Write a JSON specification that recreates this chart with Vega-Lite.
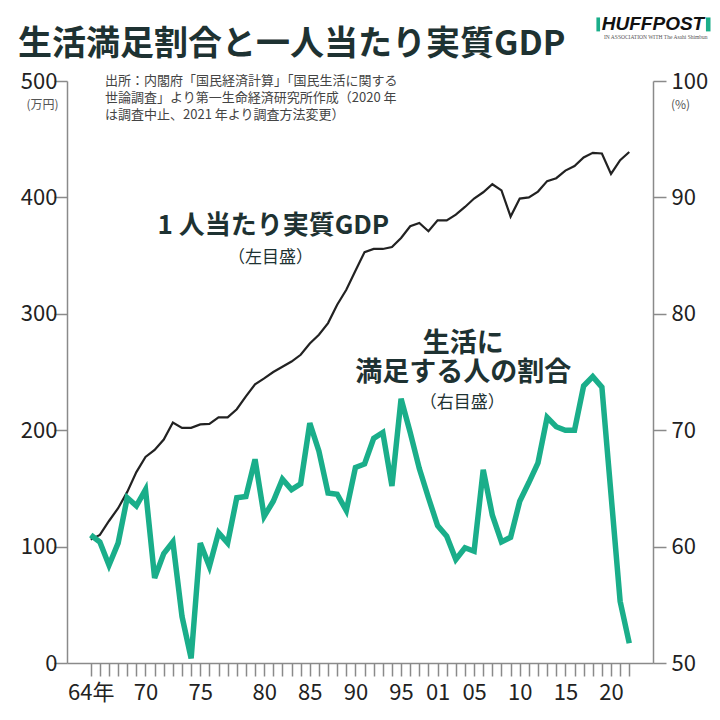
{
  "$schema": "https://vega.github.io/schema/vega-lite/v6.json",
  "width": 586,
  "height": 582,
  "autosize": {"type": "none"},
  "padding": {"left": 67, "top": 81, "right": 67, "bottom": 57},
  "background": "white",
  "config": {
    "view": {"stroke": null},
    "font": "Noto Sans CJK JP",
    "axis": {
      "grid": false,
      "domain": true,
      "ticks": true,
      "domainColor": "#8a8a8a",
      "tickColor": "#8a8a8a",
      "domainWidth": 1.5,
      "tickWidth": 1.5,
      "labelColor": "#222222",
      "labelFontSize": 22,
      "labelFont": "Noto Sans CJK JP",
      "titleFont": "Noto Sans CJK JP",
      "titleFontSize": 12,
      "titleFontWeight": "normal",
      "titleColor": "#555555"
    }
  },
  "title": {
    "text": "生活満足割合と一人当たり実質GDP",
    "anchor": "start",
    "frame": "group",
    "dx": -49,
    "dy": 57,
    "offset": 10,
    "font": "Noto Sans CJK JP",
    "fontSize": 34,
    "fontWeight": "bold",
    "color": "#1e3232"
  },
  "datasets": {
    "d": [
      {"i": 0, "year": "1964", "gdp": 106, "sat": 61.0},
      {"i": 1, "year": "1965", "gdp": 110, "sat": 60.4},
      {"i": 2, "year": "1966", "gdp": 122, "sat": 58.4},
      {"i": 3, "year": "1967", "gdp": 133, "sat": 60.3},
      {"i": 4, "year": "1968", "gdp": 147, "sat": 64.2},
      {"i": 5, "year": "1969", "gdp": 164, "sat": 63.5},
      {"i": 6, "year": "1970", "gdp": 177, "sat": 64.9},
      {"i": 7, "year": "1971", "gdp": 183, "sat": 57.3},
      {"i": 8, "year": "1972", "gdp": 192, "sat": 59.4},
      {"i": 9, "year": "1973", "gdp": 206.6, "sat": 60.4},
      {"i": 10, "year": "1974a", "gdp": 202, "sat": 54.0},
      {"i": 11, "year": "1974b", "gdp": 202, "sat": 50.4},
      {"i": 12, "year": "1975", "gdp": 205, "sat": 60.3},
      {"i": 13, "year": "1976a", "gdp": 205.5, "sat": 58.3},
      {"i": 14, "year": "1976b", "gdp": 211, "sat": 61.2},
      {"i": 15, "year": "1977a", "gdp": 211, "sat": 60.3},
      {"i": 16, "year": "1977b", "gdp": 218, "sat": 64.2},
      {"i": 17, "year": "1978", "gdp": 229, "sat": 64.3},
      {"i": 18, "year": "1979", "gdp": 239.5, "sat": 67.5},
      {"i": 19, "year": "1980", "gdp": 244.5, "sat": 62.6},
      {"i": 20, "year": "1981", "gdp": 250, "sat": 63.9},
      {"i": 21, "year": "1982", "gdp": 254.5, "sat": 65.8},
      {"i": 22, "year": "1983", "gdp": 259, "sat": 64.9},
      {"i": 23, "year": "1984", "gdp": 264.8, "sat": 65.4},
      {"i": 24, "year": "1985", "gdp": 274.5, "sat": 70.6},
      {"i": 25, "year": "1986", "gdp": 282, "sat": 68.2},
      {"i": 26, "year": "1987", "gdp": 292, "sat": 64.6},
      {"i": 27, "year": "1988", "gdp": 307.8, "sat": 64.5},
      {"i": 28, "year": "1989", "gdp": 320.7, "sat": 63.1},
      {"i": 29, "year": "1990", "gdp": 337, "sat": 66.8},
      {"i": 30, "year": "1991", "gdp": 353, "sat": 67.1},
      {"i": 31, "year": "1992", "gdp": 355.7, "sat": 69.3},
      {"i": 32, "year": "1993", "gdp": 355.7, "sat": 69.8},
      {"i": 33, "year": "1994", "gdp": 357.4, "sat": 65.2},
      {"i": 34, "year": "1995", "gdp": 365.2, "sat": 72.7},
      {"i": 35, "year": "1996", "gdp": 375.2, "sat": 69.8},
      {"i": 36, "year": "1997", "gdp": 378.1, "sat": 66.7},
      {"i": 37, "year": "1999", "gdp": 370.9, "sat": 64.2},
      {"i": 38, "year": "2001", "gdp": 380.3, "sat": 61.8},
      {"i": 39, "year": "2002", "gdp": 380.3, "sat": 60.9},
      {"i": 40, "year": "2003", "gdp": 385.2, "sat": 58.9},
      {"i": 41, "year": "2004", "gdp": 391.8, "sat": 59.9},
      {"i": 42, "year": "2005", "gdp": 399.0, "sat": 59.6},
      {"i": 43, "year": "2006", "gdp": 404.4, "sat": 66.6},
      {"i": 44, "year": "2007", "gdp": 411.3, "sat": 62.7},
      {"i": 45, "year": "2008", "gdp": 406, "sat": 60.4},
      {"i": 46, "year": "2009", "gdp": 383.5, "sat": 60.8},
      {"i": 47, "year": "2010", "gdp": 399, "sat": 63.9},
      {"i": 48, "year": "2011", "gdp": 400, "sat": 65.5},
      {"i": 49, "year": "2012", "gdp": 405, "sat": 67.2},
      {"i": 50, "year": "2013", "gdp": 414, "sat": 71.1},
      {"i": 51, "year": "2014", "gdp": 416.5, "sat": 70.3},
      {"i": 52, "year": "2015", "gdp": 423, "sat": 70.0},
      {"i": 53, "year": "2016", "gdp": 427, "sat": 70.0},
      {"i": 54, "year": "2017", "gdp": 434.3, "sat": 73.8},
      {"i": 55, "year": "2018", "gdp": 438.3, "sat": 74.6},
      {"i": 56, "year": "2019", "gdp": 437.7, "sat": 73.7},
      {"i": 57, "year": "2020", "gdp": 420.2, "sat": null},
      {"i": 58, "year": "2021", "gdp": 432, "sat": 55.3},
      {"i": 59, "year": "2022", "gdp": 439, "sat": 51.7}
    ]
  },
  "data": {"name": "d"},
  "layer": [
    {
      "mark": {"type": "line", "color": "#222222", "strokeWidth": 2.2},
      "encoding": {
        "x": {
          "field": "i", "type": "quantitative",
          "scale": {"domain": [-2.6, 61.6], "nice": false, "zero": false},
          "axis": {
            "orient": "bottom",
            "title": null,
            "values": [0,1,2,3,4,5,6,7,8,9,10,11,12,13,14,15,16,17,18,19,20,21,22,23,24,25,26,27,28,29,30,31,32,33,34,35,36,37,38,39,40,41,42,43,44,45,46,47,48,49,50,51,52,53,54,55,56,57,58,59],
            "tickSize": 13,
            "encode": {"ticks": {"update": {"y2": {"signal": "indexof([0,6,12,19,24,29,34,38,42,47,52,57], datum.value) >= 0 ? 13 : 7"}}}},
            "labelExpr": "indexof([0,6,12,19,24,29,34,38,42,47,52,57], datum.value) >= 0 ? ['64年','70','75','80','85','90','95','01','05','10','15','20'][indexof([0,6,12,19,24,29,34,38,42,47,52,57], datum.value)] : ''",
            "labelOverlap": false,
            "labelFlush": false,
            "labelBound": false,
            "labelPadding": 6
          }
        },
        "y": {
          "field": "gdp", "type": "quantitative",
          "scale": {"domain": [0, 500], "nice": false, "zero": false},
          "axis": {
            "orient": "left",
            "values": [0, 100, 200, 300, 400, 500],
            "tickSize": 13,
            "encode": {"ticks": {"update": {"x2": {"value": 13}}}},
            "labelPadding": -3,
            "title": "(万円)",
            "titleAngle": 0,
            "titleX": -25,
            "titleY": 23,
            "titleAlign": "center",
            "titleBaseline": "middle"
          }
        }
      }
    },
    {
      "transform": [{"filter": "isValid(datum.sat)"}],
      "mark": {"type": "line", "color": "#1aae8a", "strokeWidth": 5.5},
      "encoding": {
        "x": {"field": "i", "type": "quantitative", "scale": {"domain": [-2.6, 61.6], "nice": false, "zero": false}, "axis": null},
        "y": {
          "field": "sat", "type": "quantitative",
          "scale": {"domain": [50, 100], "nice": false, "zero": false},
          "axis": {
            "orient": "right",
            "values": [50, 60, 70, 80, 90, 100],
            "tickSize": 13,
            "encode": {"ticks": {"update": {"x2": {"value": -13}}}},
            "labelPadding": 5,
            "title": "(%)",
            "titleAngle": 0,
            "titleX": 27,
            "titleY": 23,
            "titleAlign": "center",
            "titleBaseline": "middle"
          }
        }
      }
    },
    {
      "data": {"values": [{}]},
      "mark": {"type": "text", "align": "center", "baseline": "middle", "fontSize": 26, "fontWeight": "bold", "color": "#1e3232", "text": "1 人当たり実質GDP"},
      "encoding": {
        "x": {"datum": 20.0, "type": "quantitative", "scale": {"domain": [-2.6, 61.6], "nice": false, "zero": false}, "axis": null},
        "y": {"datum": 375.8, "type": "quantitative", "scale": {"domain": [0, 500], "nice": false, "zero": false}, "axis": null}
      }
    },
    {
      "data": {"values": [{}]},
      "mark": {"type": "text", "align": "center", "baseline": "middle", "fontSize": 17, "color": "#1e3232", "text": "（左目盛）"},
      "encoding": {
        "x": {"datum": 19.7, "type": "quantitative", "scale": {"domain": [-2.6, 61.6], "nice": false, "zero": false}, "axis": null},
        "y": {"datum": 348.2, "type": "quantitative", "scale": {"domain": [0, 500], "nice": false, "zero": false}, "axis": null}
      }
    },
    {
      "data": {"values": [{}]},
      "mark": {"type": "text", "align": "left", "baseline": "top", "fontSize": 13, "lineHeight": 17, "color": "#444444",
               "text": ["出所：内閣府「国民経済計算」「国民生活に関する", "世論調査」より第一生命経済研究所作成（2020 年", "は調査中止、2021 年より調査方法変更）"]},
      "encoding": {
        "x": {"datum": 1.57, "type": "quantitative", "scale": {"domain": [-2.6, 61.6], "nice": false, "zero": false}, "axis": null},
        "y": {"datum": 505, "type": "quantitative", "scale": {"domain": [0, 500], "nice": false, "zero": false}, "axis": null}
      }
    },
    {
      "data": {"values": [{"x1": 55.4, "x2": 55.8}, {"x1": 67.4, "x2": 67.9}]},
      "mark": {"type": "rect", "color": "#1aae8a", "clip": false},
      "encoding": {
        "x": {"field": "x1", "type": "quantitative", "scale": {"domain": [-2.6, 61.6], "nice": false, "zero": false}, "axis": null},
        "x2": {"field": "x2"},
        "y": {"datum": 554.6, "type": "quantitative", "scale": {"domain": [0, 500], "nice": false, "zero": false}, "axis": null},
        "y2": {"datum": 542.6}
      }
    },
    {
      "data": {"values": [{}]},
      "mark": {"type": "text", "align": "center", "baseline": "middle", "fontSize": 19, "fontWeight": 900, "fontStyle": "italic", "font": "Liberation Sans", "color": "#111111", "text": "HUFFPOST"},
      "encoding": {
        "x": {"datum": 61.6, "type": "quantitative", "scale": {"domain": [-2.6, 61.6], "nice": false, "zero": false}, "axis": null},
        "y": {"datum": 548.6, "type": "quantitative", "scale": {"domain": [0, 500], "nice": false, "zero": false}, "axis": null}
      }
    },
    {
      "data": {"values": [{}]},
      "mark": {"type": "text", "align": "center", "baseline": "middle", "fontSize": 5.5, "font": "Liberation Serif", "color": "#555555", "text": "IN ASSOCIATION WITH  The Asahi Shimbun"},
      "encoding": {
        "x": {"datum": 61.9, "type": "quantitative", "scale": {"domain": [-2.6, 61.6], "nice": false, "zero": false}, "axis": null},
        "y": {"datum": 537.4, "type": "quantitative", "scale": {"domain": [0, 500], "nice": false, "zero": false}, "axis": null}
      }
    },
    {
      "data": {"values": [{}]},
      "mark": {"type": "text", "align": "center", "baseline": "middle", "fontSize": 27, "fontWeight": "bold", "color": "#1e3232", "text": "生活に"},
      "encoding": {
        "x": {"datum": 40.8, "type": "quantitative", "scale": {"domain": [-2.6, 61.6], "nice": false, "zero": false}, "axis": null},
        "y": {"datum": 77.4, "type": "quantitative", "scale": {"domain": [50, 100], "nice": false, "zero": false}, "axis": null}
      }
    },
    {
      "data": {"values": [{}]},
      "mark": {"type": "text", "align": "center", "baseline": "middle", "fontSize": 27, "fontWeight": "bold", "color": "#1e3232", "text": "満足する人の割合"},
      "encoding": {
        "x": {"datum": 40.8, "type": "quantitative", "scale": {"domain": [-2.6, 61.6], "nice": false, "zero": false}, "axis": null},
        "y": {"datum": 74.9, "type": "quantitative", "scale": {"domain": [50, 100], "nice": false, "zero": false}, "axis": null}
      }
    },
    {
      "data": {"values": [{}]},
      "mark": {"type": "text", "align": "center", "baseline": "middle", "fontSize": 17, "color": "#1e3232", "text": "（右目盛）"},
      "encoding": {
        "x": {"datum": 40.7, "type": "quantitative", "scale": {"domain": [-2.6, 61.6], "nice": false, "zero": false}, "axis": null},
        "y": {"datum": 72.3, "type": "quantitative", "scale": {"domain": [50, 100], "nice": false, "zero": false}, "axis": null}
      }
    }
  ],
  "resolve": {"scale": {"x": "independent", "y": "independent"}}
}
